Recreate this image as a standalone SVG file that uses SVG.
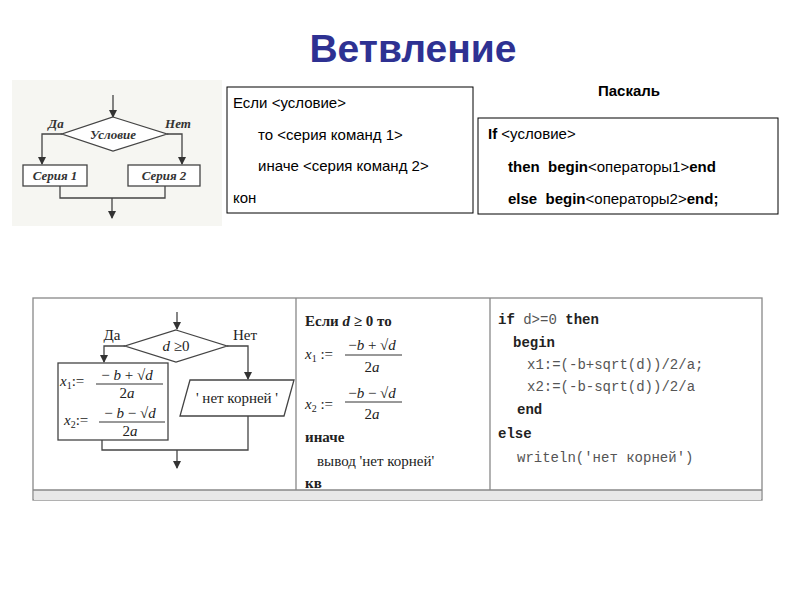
<svg xmlns="http://www.w3.org/2000/svg" width="800" height="600" viewBox="0 0 800 600">
<defs>
<marker id="ar" markerWidth="8" markerHeight="8" refX="7" refY="4" orient="auto" markerUnits="userSpaceOnUse"><path d="M0,0 L8,4 L0,8 Z" fill="#333"/></marker>
<style>
.ln{stroke:#444;stroke-width:1.3;fill:none}
.bx{fill:#fff;stroke:#444;stroke-width:1.3}
.it{font-family:"Liberation Serif",serif;font-style:italic;font-weight:bold;fill:#333}
.sf{font-family:"Liberation Serif",serif;fill:#222}
.sa{font-family:"Liberation Sans",Arial,sans-serif;font-size:15px;fill:#000}
.mo{font-family:"Liberation Mono",monospace;font-size:14px;fill:#555}
.mb{font-family:"Liberation Mono",monospace;font-size:14px;font-weight:bold;fill:#222}
</style>
</defs>
<rect width="800" height="600" fill="#fff"/>
<text x="413" y="62" text-anchor="middle" font-family="Liberation Sans,Arial,sans-serif" font-weight="bold" font-size="39" fill="#2e3192">Ветвление</text>

<g id="flow1">
<rect x="12" y="80" width="210" height="146" fill="#f6f6f2"/>
<g id="c1">
<line class="ln" x1="113" y1="95" x2="113" y2="117" marker-end="url(#ar)"/>
<polyline class="ln" points="62,134 42,134 42,164" marker-end="url(#ar)"/>
<polyline class="ln" points="167,134 182,134 182,164" marker-end="url(#ar)"/>
<polyline class="ln" points="60,186 60,198 165,198 165,186"/>
<line class="ln" x1="112" y1="198" x2="112" y2="218" marker-end="url(#ar)"/>
</g>
<polygon class="bx" points="113,117 167,134 113,151 62,134"/>
<text class="it" x="113" y="139" font-size="13" text-anchor="middle">Условие</text>
<text class="it" x="56" y="128" font-size="13" text-anchor="middle">Да</text>
<text class="it" x="178" y="128" font-size="13" text-anchor="middle">Нет</text>
<rect class="bx" x="23" y="165" width="64" height="21"/>
<text class="it" x="55" y="180" font-size="13" text-anchor="middle">Серия 1</text>
<rect class="bx" x="128" y="165" width="72" height="21"/>
<text class="it" x="164" y="180" font-size="13" text-anchor="middle">Серия 2</text>
</g>

<g id="algo">
<rect x="227" y="87" width="246" height="126" fill="#fff" stroke="#000" stroke-width="1"/>
<text class="sa" x="233" y="108">Если &lt;условие&gt;</text>
<text class="sa" x="258" y="140">то &lt;серия команд 1&gt;</text>
<text class="sa" x="258" y="171">иначе &lt;серия команд 2&gt;</text>
<text class="sa" x="233" y="203">кон</text>
</g>

<g id="pascal">
<text x="629" y="96" text-anchor="middle" font-family="Liberation Sans,Arial,sans-serif" font-weight="bold" font-size="15">Паскаль</text>
<rect x="478" y="118" width="300" height="96" fill="#fff" stroke="#000" stroke-width="1"/>
<text class="sa" x="488" y="139"><tspan font-weight="bold">If</tspan> &lt;условие&gt;</text>
<text class="sa" x="508" y="172" xml:space="preserve"><tspan font-weight="bold">then  begin</tspan>&lt;операторы1&gt;<tspan font-weight="bold">end</tspan></text>
<text class="sa" x="508" y="204" xml:space="preserve"><tspan font-weight="bold">else  begin</tspan>&lt;операторы2&gt;<tspan font-weight="bold">end;</tspan></text>
</g>

<g id="example">
<rect x="33" y="298" width="729" height="202" fill="#fff" stroke="#888" stroke-width="1.3"/>
<rect x="34" y="490" width="727" height="10" fill="#e8e8e8"/>
<line x1="33" y1="490" x2="762" y2="490" stroke="#888" stroke-width="1.3"/>
<line x1="296" y1="298" x2="296" y2="490" stroke="#888" stroke-width="1.3"/>
<line x1="490" y1="298" x2="490" y2="490" stroke="#888" stroke-width="1.3"/>
<g id="c2">
<line class="ln" x1="177" y1="312" x2="177" y2="329" marker-end="url(#ar)"/>
<polyline class="ln" points="125,346 104,346 104,362" marker-end="url(#ar)"/>
<polyline class="ln" points="227,346 248,346 248,379" marker-end="url(#ar)"/>
<polyline class="ln" points="102,440 102,450 248,450 248,416"/>
<line class="ln" x1="177" y1="450" x2="177" y2="468" marker-end="url(#ar)"/>
</g>
<polygon class="bx" points="176,330 227,346 176,362 125,346"/>
<text class="sf" x="176" y="351" font-size="15" text-anchor="middle"><tspan font-style="italic">d</tspan> ≥0</text>
<text class="sf" x="112" y="340" font-size="15" text-anchor="middle">Да</text>
<text class="sf" x="245" y="340" font-size="15" text-anchor="middle">Нет</text>
<rect class="bx" x="58" y="363" width="110" height="77"/>
<text class="sf" x="60" y="386" font-size="15"><tspan font-style="italic">x</tspan><tspan font-size="10" dy="3">1</tspan><tspan dy="-3">:=</tspan></text>
<text class="sf" x="127" y="380" font-size="15" text-anchor="middle">− <tspan font-style="italic">b</tspan> + √<tspan font-style="italic">d</tspan></text>
<line x1="96" y1="384" x2="163" y2="384" stroke="#333"/>
<text class="sf" x="127" y="398" font-size="15" text-anchor="middle">2<tspan font-style="italic">a</tspan></text>
<text class="sf" x="64" y="425" font-size="15"><tspan font-style="italic">x</tspan><tspan font-size="10" dy="3">2</tspan><tspan dy="-3">:=</tspan></text>
<text class="sf" x="130" y="418" font-size="15" text-anchor="middle">− <tspan font-style="italic">b</tspan> − √<tspan font-style="italic">d</tspan></text>
<line x1="99" y1="422" x2="165" y2="422" stroke="#333"/>
<text class="sf" x="130" y="436" font-size="15" text-anchor="middle">2<tspan font-style="italic">a</tspan></text>
<polygon class="bx" points="190,380 294,380 284,416 180,416"/>
<text class="sf" x="237" y="403" font-size="15" text-anchor="middle">' нет корней '</text>

<text class="sf" x="305" y="326" font-size="15" font-weight="bold">Если <tspan font-style="italic">d</tspan> ≥ 0 то</text>
<text class="sf" x="305" y="359" font-size="15"><tspan font-style="italic">x</tspan><tspan font-size="10" dy="3">1</tspan><tspan dy="-3"> :=</tspan></text>
<text class="sf" x="372" y="350" font-size="15" text-anchor="middle">−<tspan font-style="italic">b</tspan> + √<tspan font-style="italic">d</tspan></text>
<line x1="345" y1="355" x2="402" y2="355" stroke="#333"/>
<text class="sf" x="372" y="372" font-size="15" text-anchor="middle">2<tspan font-style="italic">a</tspan></text>
<text class="sf" x="305" y="409" font-size="15"><tspan font-style="italic">x</tspan><tspan font-size="10" dy="3">2</tspan><tspan dy="-3"> :=</tspan></text>
<text class="sf" x="372" y="398" font-size="15" text-anchor="middle">−<tspan font-style="italic">b</tspan> − √<tspan font-style="italic">d</tspan></text>
<line x1="345" y1="402" x2="402" y2="402" stroke="#333"/>
<text class="sf" x="372" y="419" font-size="15" text-anchor="middle">2<tspan font-style="italic">a</tspan></text>
<text class="sf" x="305" y="442" font-size="15" font-weight="bold">иначе</text>
<text class="sf" x="317" y="466" font-size="15">вывод 'нет корней'</text>
<text class="sf" x="305" y="488" font-size="15" font-weight="bold">кв</text>

<text class="mb" x="498" y="324">if <tspan class="mo" font-weight="normal">d&gt;=0</tspan> then</text>
<text class="mb" x="513" y="347">begin</text>
<text class="mo" x="527" y="369">x1:=(-b+sqrt(d))/2/a;</text>
<text class="mo" x="527" y="391">x2:=(-b-sqrt(d))/2/a</text>
<text class="mb" x="517" y="414">end</text>
<text class="mb" x="498" y="438">else</text>
<text class="mo" x="517" y="462">writeln('нет корней')</text>
</g>
</svg>
